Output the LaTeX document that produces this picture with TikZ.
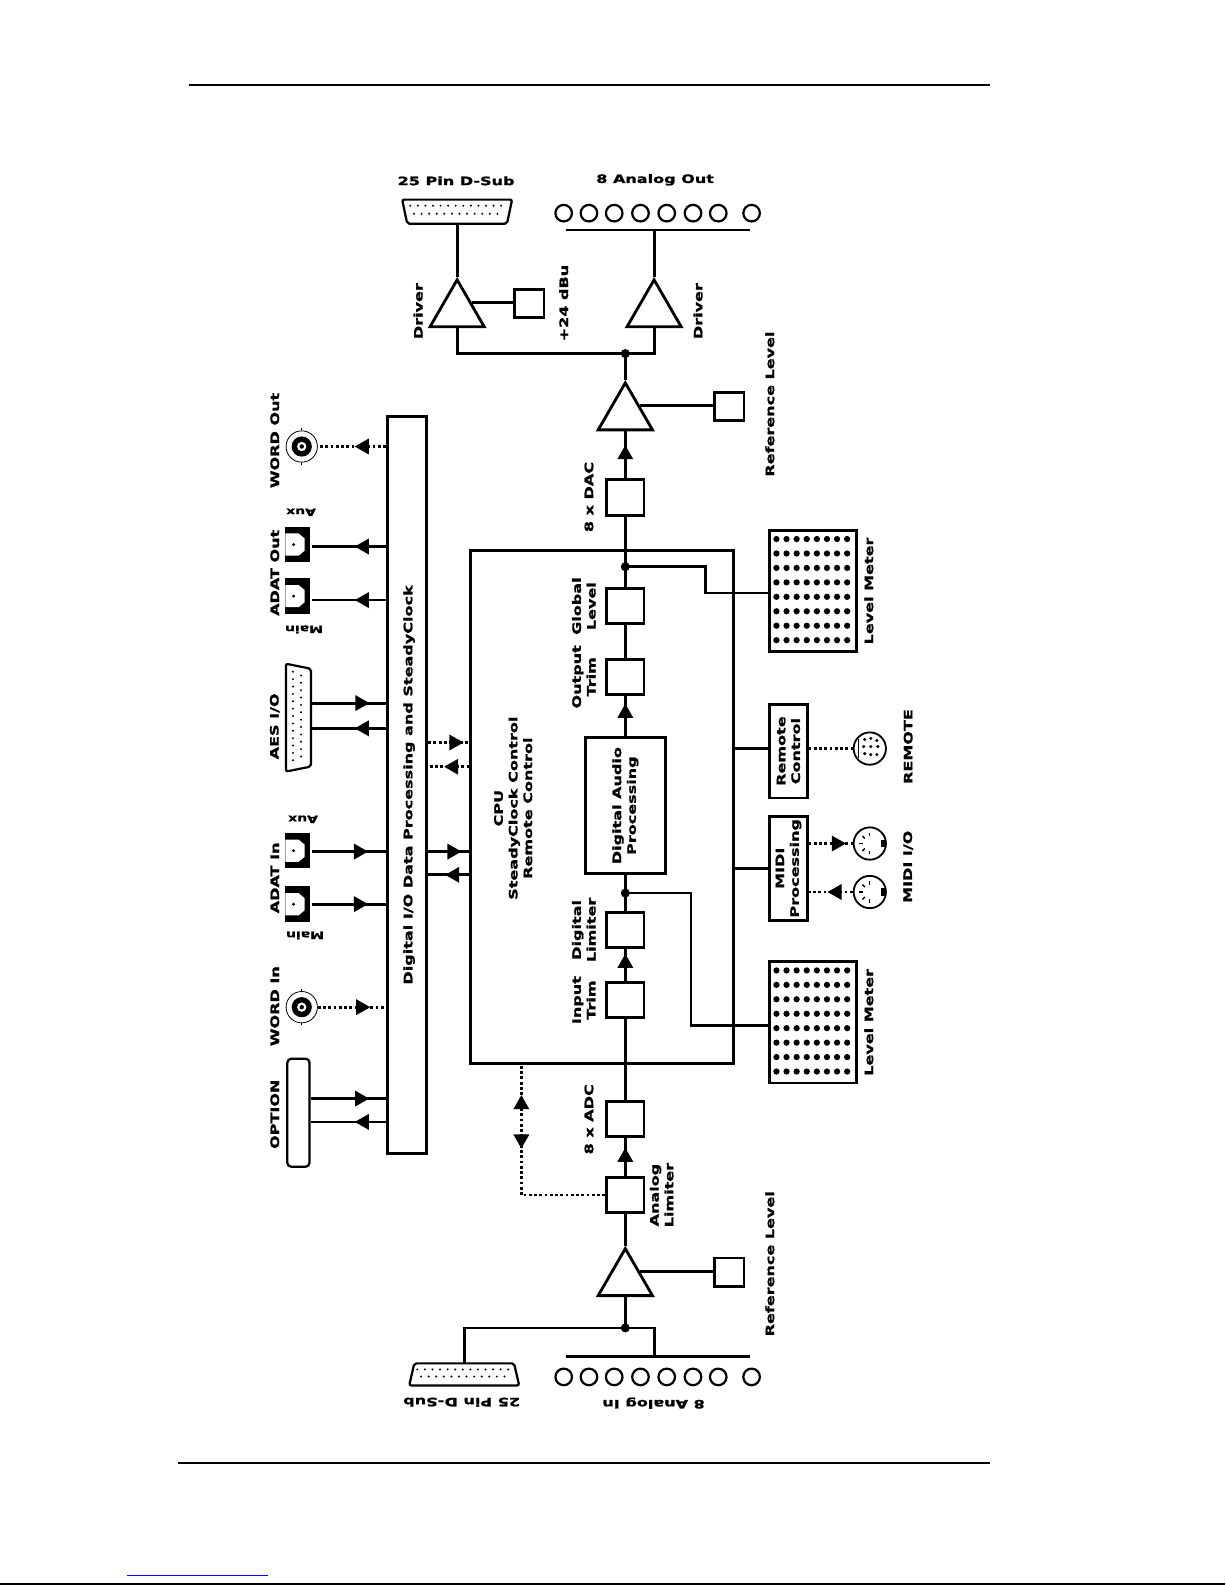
\documentclass[tikz,border=0pt]{standalone}
\usepackage{fontspec}
\newfontfamily\lblfont{DejaVu Sans}[FakeStretch=1.38, BoldFeatures={FakeBold=1.3}]
\usetikzlibrary{arrows.meta,shapes.geometric,decorations.markings,calc}

\tikzset{
  blk/.style={draw, minimum width=37pt, minimum height=35pt, inner sep=0pt},
  sq/.style={draw, minimum width=29pt, minimum height=28pt, inner sep=0pt},
  amp/.style={draw, regular polygon, regular polygon sides=3, minimum size=62pt, inner sep=0pt},
  lbl/.style={font=\lblfont\bfseries\fontsize{11.5}{14.5}\selectfont, align=center, inner sep=0pt},
  vlbl/.style={lbl, rotate=90},
  sublbl/.style={font=\lblfont\bfseries\fontsize{10}{12}\selectfont, inner sep=0pt, rotate=180},
  dotline/.style={dash pattern=on 2.8pt off 2.4pt},
  tipat/.style={postaction={decorate, decoration={markings,
      mark=at position #1 with {\arrow{Triangle[length=14pt,width=15pt]}}}}},
  tipback/.style={postaction={decorate, decoration={markings,
      mark=at position #1 with {\arrowreversed{Triangle[length=14pt,width=15pt]}}}}},
  ledbox/.style={draw, minimum width=86pt, minimum height=120pt, inner sep=0pt},
  jack/.style={circle, draw, line width=2.2pt, minimum size=16.4pt, inner sep=0pt},
  din/.style={circle, draw, line width=1.8pt, minimum size=32pt, inner sep=0pt},
  bnc/.style={circle, draw, line width=0.8pt, minimum size=31pt, inner sep=0pt},
  optical/.style={fill, minimum width=25pt, minimum height=35pt, inner sep=0pt},
}

\begin{document}
\begin{tikzpicture}[x=1pt, y=-1pt, line width=2.8pt]
  \useasboundingbox (0,0) rectangle (1213,1569);
  \draw[line width=2pt] (187,84) -- (980,84);
  \draw[line width=2pt] (176,1448) -- (980,1448);
  \draw[line width=1pt, blue] (125.5,1559.5) -- (265.7,1559.5);
  \draw[line width=1.5pt] (0,1568.2) -- (1213,1568.2);

  \node[draw, minimum width=260pt, minimum height=508pt, inner sep=0pt] (cpu) at (596,798.7) {};
  \node[draw, minimum width=39pt, minimum height=730pt, inner sep=0pt] (dio) at (403,777) {};
  \node[vlbl] (ldio) at (405,777) {Digital I/O Data Processing and SteadyClock};
  \node[vlbl] (lcpu) at (508,800) {CPU\\SteadyClock Control\\Remote Control};

  \node[minimum width=106pt, minimum height=21pt, inner sep=0pt] (dsubtop) at (452.5,209.5) {};
  \draw[line width=2.2pt, rounded corners=2pt] (dsubtop.north west) -- (dsubtop.north east)
       -- ($(dsubtop.south east)+(-5,0)$) -- ($(dsubtop.south west)+(5,0)$) -- cycle;
  \foreach \k in {0,...,12} \fill ($(dsubtop.north west)+(8+7.5*\k,6)$) circle (1.1);
  \foreach \k in {0,...,11} \fill ($(dsubtop.north west)+(11.75+7.5*\k,14)$) circle (1.1);
  \node[lbl] (ldsubtop) at (451.5,179) {25 Pin D-Sub};

  \node[lbl] (laout) at (648.5,178) {8 Analog Out};
  \foreach \cx [count=\n] in {558,583,608,634,660,686,711,744}
    \node[jack] (ao\n) at (\cx,211) {};
  \draw (560,227.7) -- (742.6,227.7);
  \coordinate (aobar) at (647.5,227.7);

  \node[amp] (drvA) at (452.5,308) {};
  \node[amp] (drvB) at (647.5,308) {};
  \node[sq] (sq24) at (524,300.3) {};
  \node[vlbl] (ldrva) at (414,308) {Driver};
  \node[vlbl] (ldrvb) at (691,308) {Driver};
  \node[vlbl] (l24) at (558,300) {+24 dBu};
  \draw (dsubtop.south) -- (drvA.corner 1);
  \draw (drvA.side 3) -- (drvA.side 3 -| sq24.west);
  \draw (aobar) -- (drvB.corner 1);

  \coordinate (jtop) at (619,350);
  \draw (drvA.side 2) |- (jtop) -| (drvB.side 2);
  \fill (jtop) circle (4.5);

  \node[amp] (outamp) at (619,410) {};
  \node[sq] (refsqtop) at (722,402.3) {};
  \node[vlbl] (lreftop) at (762,400) {Reference Level};
  \draw (jtop) -- (outamp.corner 1);
  \draw (outamp.side 3) -- (outamp.side 3 -| refsqtop.west);

  \node[blk] (dac) at (619,492.5) {};
  \node[vlbl] (ldac) at (583,492) {8 x DAC};
  \draw[tipat=33pt] (dac.north) -- (outamp.side 2);

  \coordinate (jcpu) at (619,561);
  \node[blk] (glevel) at (619,600) {};
  \node[blk] (otrim) at (619,670) {};
  \node[draw, minimum width=79pt, minimum height=135pt, inner sep=0pt] (dap) at (619,797.5) {};
  \node[blk] (dlim) at (619,920.5) {};
  \node[blk] (itrim) at (619,990) {};
  \coordinate (jdap) at (619,884);
  \node[vlbl] (lglevel) at (578,600) {Global\\Level};
  \node[vlbl] (lotrim) at (578,670) {Output\\Trim};
  \node[vlbl] (ldap) at (619,797.5) {Digital Audio\\Processing};
  \node[vlbl] (ldlim) at (578,920.5) {Digital\\Limiter};
  \node[vlbl] (litrim) at (578,990) {Input\\Trim};

  \draw (dac.south) -- (glevel.north);
  \fill (jcpu) circle (4.5);
  \draw (glevel.south) -- (otrim.north);
  \draw[tipat=32pt] (dap.north) -- (otrim.south);
  \draw (dlim.north) -- (dap.south);
  \fill (jdap) circle (4.5);
  \draw[tipat=27pt] (itrim.north) -- (dlim.south);

  \node[ledbox] (lmtop) at (805,585) {};
  \node[ledbox] (lmbot) at (805,1012) {};
  \foreach \i in {0,...,7}
    \foreach \j in {0,...,7} {
      \fill ($(lmtop.north west)+(8+10*\i,10+14.3*\j)$) circle (3.1);
      \fill ($(lmbot.north west)+(8+10*\i,10+14.3*\j)$) circle (3.1);
    }
  \node[vlbl] (llmtop) at (860,585) {Level Meter};
  \node[vlbl] (llmbot) at (860,1012) {Level Meter};
  \draw (jcpu) -- ++(79,0) |- (lmtop.west |- 0,587);
  \draw (jdap) -- ++(65,0) |- (lmbot.west |- 0,1015);

  \node[blk] (adc) at (619,1107.5) {};
  \node[blk] (alim) at (619,1183) {};
  \node[vlbl] (ladc) at (583,1108) {8 x ADC};
  \node[vlbl] (lalim) at (655,1183) {Analog\\Limiter};
  \draw (adc.north) -- (itrim.south);
  \draw[tipat=28pt] (alim.north) -- (adc.south);
  \draw[dotline, tipback=129pt, tipat=182pt] (alim.west) -| ($(cpu.south west)+(51.5,0)$);

  \node[amp] (inamp) at (619,1267) {};
  \node[sq] (refsqbot) at (722,1259.3) {};
  \node[vlbl] (lrefbot) at (762,1251) {Reference Level};
  \draw (inamp.corner 1) -- (alim.south);
  \draw (inamp.side 3) -- (inamp.side 3 -| refsqbot.west);

  \coordinate (jin) at (619,1314.5);
  \coordinate (aibar) at (647.5,1342.6);
  \node[minimum width=106pt, minimum height=19pt, inner sep=0pt] (dsubbot) at (459.5,1360.5) {};
  \draw[line width=2.2pt, rounded corners=2pt] ($(dsubbot.north west)+(5,0)$) -- ($(dsubbot.north east)+(-5,0)$)
       -- (dsubbot.south east) -- (dsubbot.south west) -- cycle;
  \foreach \k in {0,...,12} \fill ($(dsubbot.north west)+(8+7.5*\k,6)$) circle (1.1);
  \foreach \k in {0,...,11} \fill ($(dsubbot.north west)+(11.75+7.5*\k,13)$) circle (1.1);
  \draw (jin) -- (inamp.side 2);
  \draw (dsubbot.north) |- (jin) -| (aibar);
  \fill (jin) circle (4.5);
  \draw (560,1342.6) -- (742.6,1342.6);
  \foreach \cx [count=\n] in {558,583,608,634,660,686,711,744}
    \node[jack] (ai\n) at (\cx,1363) {};
  \node[lbl, rotate=180] (ldsubbot) at (457,1388) {25 Pin D-Sub};
  \node[lbl, rotate=180] (lain) at (647,1389) {8 Analog In};

  \draw[tipat=33pt] (dio.east |- 0,843) -- (cpu.west |- 0,843);
  \draw[tipat=24pt] (cpu.west |- 0,866) -- (dio.east |- 0,866);
  \draw[dotline, tipat=35pt] (dio.east |- 0,735) -- (cpu.west |- 0,735);
  \draw[dotline, tipat=25pt] (cpu.west |- 0,759) -- (dio.east |- 0,759);

  \foreach \nm/\yy in {wout/442, win/997} {
    \node[bnc] (\nm) at (298.7,\yy) {};
    \fill (\nm) circle (10);
    \fill[white] (\nm) circle (4.6);
    \fill (\nm) circle (2.2);
    \draw[line width=0.8pt] (\nm.north) -- ++(0,-2) (\nm.south) -- ++(0,2);
  }
  \foreach \nm/\yy in {adatoa/539, adatom/590, adatia/842, adatim/895} {
    \node[optical] (\nm) at (294.5,\yy) {};
    \fill[white] ($(\nm.north west)+(2,8)$) -- ++(13,0) -- ++(6,5) -- ++(0,12)
         -- ++(-6,5) -- ++(-13,0) -- cycle;
    \fill ($(\nm.north west)+(10,19)$) circle (1.6);
  }
  \node[minimum width=22pt, minimum height=104pt, inner sep=0pt] (aes) at (295.4,710.4) {};
  \draw[line width=2.2pt, rounded corners=2pt] (aes.north west) -- ($(aes.north east)+(0,5)$)
       -- ($(aes.south east)+(0,-5)$) -- (aes.south west) -- cycle;
  \foreach \k in {0,...,12} \fill ($(aes.north west)+(7,8+7.3*\k)$) circle (1.1);
  \foreach \k in {0,...,11} \fill ($(aes.north west)+(15,11.6+7.3*\k)$) circle (1.1);
  \node[draw, rounded corners=4pt, line width=2.2pt, minimum width=22pt, minimum height=107pt,
        inner sep=0pt] (opt) at (295.4,1101.5) {};

  \draw[dotline, tipat=31pt] (dio.west |- wout) -- (wout.east);
  \draw[tipat=31pt] (dio.west |- 0,541) -- (adatoa.east |- 0,541);
  \draw[tipat=31pt] (dio.west |- 0,594) -- (adatom.east |- 0,594);
  \draw[tipat=58pt] (aes.east |- 0,696) -- (dio.west |- 0,696);
  \draw[tipat=31pt] (dio.west |- 0,721) -- (aes.east |- 0,721);
  \draw[tipat=56pt] (adatia.east |- 0,843) -- (dio.west |- 0,843);
  \draw[tipat=56pt] (adatim.east |- 0,895) -- (dio.west |- 0,895);
  \draw[dotline, tipat=52pt] (win.east) -- (dio.west |- win);
  \draw[tipat=58pt] (opt.east |- 0,1087.5) -- (dio.west |- 0,1087.5);
  \draw[tipat=31pt] (dio.west |- 0,1110.6) -- (opt.east |- 0,1110.6);

  \node[vlbl] (lwout) at (272,436) {WORD Out};
  \node[vlbl] (ladatout) at (272,567) {ADAT Out};
  \node[vlbl] (laes) at (272,719) {AES I/O};
  \node[vlbl] (ladatin) at (272,869) {ADAT In};
  \node[vlbl] (lwin) at (272,996) {WORD In};
  \node[vlbl] (lopt) at (272,1103) {OPTION};
  \node[sublbl] (laoaux) at (298,507) {Aux};
  \node[sublbl] (laomain) at (301,623) {Main};
  \node[sublbl] (laiaux) at (300,811) {Aux};
  \node[sublbl] (laimain) at (302,926) {Main};

  \node[draw, minimum width=37pt, minimum height=93pt, inner sep=0pt] (rc) at (780.5,743.5) {};
  \node[draw, minimum width=37pt, minimum height=103pt, inner sep=0pt] (midi) at (780.5,859.5) {};
  \node[vlbl] (lrc) at (780.5,743.5) {Remote\\Control};
  \node[vlbl] (lmidi) at (780.5,859.5) {MIDI\\Processing};
  \draw (cpu.east |- 0,741) -- (rc.west |- 0,741);
  \draw (cpu.east |- 0,860) -- (midi.west |- 0,860);

  \node[din] (remcon) at (861,741) {};
  \foreach \dx/\dy in {-5/-9,1/-10,7/-8,-6/-2,1/-2,8/-2,-5/5,1/6,7/6}
    \fill ($(remcon)+(\dx,\dy)$) circle (1.7);
  \draw[line width=0.8pt] ($(remcon)+(-11,-9)$) -- ($(remcon)+(-11,9)$);
  \foreach \nm/\yy in {midia/835, midib/883} {
    \node[din] (\nm) at (861,\yy) {};
    \foreach \a in {90,135,180,225,270}
      \draw[line width=1.4pt] ($(\nm)+(\a:7)$) -- ($(\nm)+(\a:10.5)$);
    \fill ($(\nm)+(11,-3.5)$) rectangle ($(\nm)+(15,3.5)$);
  }
  \draw[dotline] (rc.east |- remcon) -- (remcon.west);
  \draw[dotline, tipat=37pt] (midi.east |- midia) -- (midia.west);
  \draw[dotline, tipat=25pt] (midib.west) -- (midi.east |- midib);
  \node[vlbl] (lremote) at (899,739) {REMOTE};
  \node[vlbl] (lmidiio) at (899,858) {MIDI I/O};
\end{tikzpicture}
\end{document}
